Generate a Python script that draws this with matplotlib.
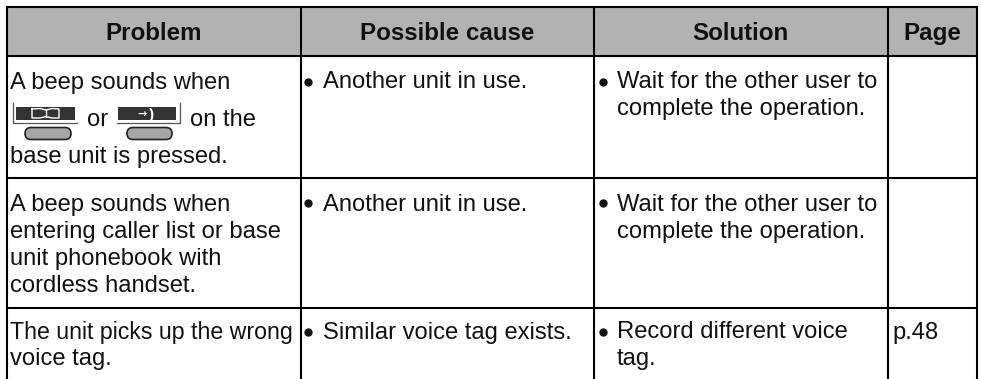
import matplotlib
matplotlib.use("Agg")
import matplotlib.pyplot as plt
from matplotlib.patches import Rectangle, FancyBboxPatch

W, H = 983, 379
headers = ["Problem", "Possible cause", "Solution", "Page"]
col_edges = [6.5, 300.5, 593.5, 887.5, 977]
row_edges = [7, 56, 178, 308]
body_text = [
    (10, 88.5, "A beep sounds when"), (87, 125.5, "or"), (190, 125.5, "on the"), (10, 162.5, "base unit is pressed."),
    (10, 211, "A beep sounds when"), (10, 238, "entering caller list or base"), (10, 265, "unit phonebook with"), (10, 292, "cordless handset."),
    (323, 88.5, "Another unit in use."), (323, 211, "Another unit in use."), (323, 338.5, "Similar voice tag exists."),
    (617, 88.5, "Wait for the other user to"), (617, 115.5, "complete the operation."),
    (617, 211, "Wait for the other user to"), (617, 238, "complete the operation."),
    (617, 338.5, "Record different voice"), (617, 365.5, "tag."),
    (892, 338.5, "p.48"), (10, 365.5, "voice tag."),
]
tight_text = [(10, 338.5, "The unit picks up the wrong")]
bullets = [(308, 82), (308, 203), (308, 332), (603, 82), (603, 203), (603, 332)]

plt.rcParams["font.family"] = "Liberation Sans"
fig = plt.figure(figsize=(W / 100, H / 100), dpi=100)
ax = fig.add_axes([0, 0, 1, 1])
ax.set_xlim(0, W)
ax.set_ylim(H, 0)
ax.axis("off")

ax.add_patch(Rectangle((col_edges[0], row_edges[0]), col_edges[-1] - col_edges[0], row_edges[1] - row_edges[0],
                       fc="#b2b2b2", ec="none", zorder=1))
for x in col_edges:
    ax.plot([x, x], [row_edges[0] - 1, H], color="black", lw=1.5, zorder=3, solid_capstyle="butt")
for y in row_edges:
    ax.plot([col_edges[0] - 1, col_edges[-1] + 1], [y, y], color="black", lw=1.5, zorder=3, solid_capstyle="butt")

for i, h in enumerate(headers):
    ax.text((col_edges[i] + col_edges[i + 1]) / 2, 40, h, ha="center", va="baseline",
            fontsize=17.4, fontweight="bold", color="#111111", zorder=4)
for x, y, s in body_text:
    ax.text(x, y, s, ha="left", va="baseline", fontsize=17.1, color="#111111", zorder=4)
for x, y, s in tight_text:
    ax.text(x, y, s, ha="left", va="baseline", fontsize=16.7, color="#111111", zorder=4)
for x, y in bullets:
    ax.plot([x], [y], "o", ms=6, color="#111111", mec="none", zorder=4)

# button icons: left (book) and right (arrow)
ax.add_patch(Rectangle((16, 107), 59, 13, fc="#333333", ec="none", zorder=4))
ax.add_patch(Rectangle((118, 107), 58, 13, fc="#333333", ec="none", zorder=4))
ax.plot([13, 13, 77], [103, 123, 123], color="#555555", lw=0.9, zorder=4)
ax.plot([117, 180, 180], [123, 123, 103], color="#555555", lw=0.9, zorder=4)
ax.add_patch(FancyBboxPatch((25, 127.5), 46, 12, boxstyle="round,pad=0,rounding_size=6",
                            fc="#a6a6a6", ec="#222222", lw=1.2, zorder=4))
ax.add_patch(FancyBboxPatch((127, 127.5), 45, 12, boxstyle="round,pad=0,rounding_size=6",
                            fc="#a6a6a6", ec="#222222", lw=1.2, zorder=4))
ax.plot([32, 32, 40, 46, 52, 59, 59, 52, 46, 40, 32], [109, 118, 118, 116.5, 118, 118, 109, 108.5, 110, 108.5, 109],
        color="white", lw=1, zorder=5)
ax.plot([46, 46], [110, 116.5], color="white", lw=1, zorder=5)
ax.text(137, 117.5, "\u2192", color="white", fontsize=8, fontweight="bold", family="DejaVu Sans", zorder=5)
ax.text(149, 118.5, ")", color="white", fontsize=11, fontweight="bold", zorder=5)

fig.savefig("out.png", dpi=100)
